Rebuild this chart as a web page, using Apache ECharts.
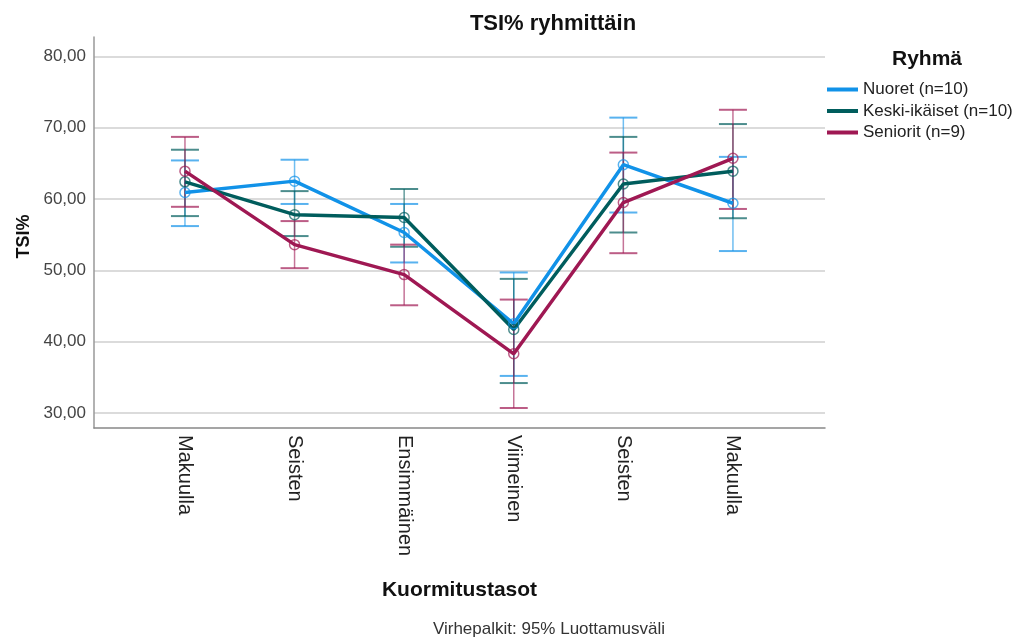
<!DOCTYPE html>
<html>
<head>
<meta charset="utf-8">
<script src="https://cdn.jsdelivr.net/npm/echarts@6/dist/echarts.min.js"></script>
<style>html,body{margin:0;padding:0;background:#fff}#c{width:1016px;height:639px}</style>
</head>
<body>
<div id="c"></div>
<script>
var categories = ['Makuulla', 'Seisten', 'Ensimmäinen', 'Viimeinen', 'Seisten', 'Makuulla'];
var yTicks = [30, 40, 50, 60, 70, 80];
var groupNames = ['Nuoret (n=10)', 'Keski-ikäiset (n=10)', 'Seniorit (n=9)'];
var nuoretMean = [60.9, 62.5, 55.3, 42.5, 64.8, 59.4];
var nuoretLow  = [56.2, 59.3, 51.1, 35.2, 58.1, 52.7];
var nuoretHigh = [65.4, 65.5, 59.3, 49.7, 71.4, 65.9];
var keskiMean = [62.4, 57.8, 57.4, 41.7, 62.1, 63.9];
var keskiLow  = [57.6, 54.8, 53.3, 34.2, 55.3, 57.3];
var keskiHigh = [66.9, 61.1, 61.4, 48.8, 68.7, 70.5];
var senioritMean = [63.9, 53.6, 49.4, 38.3, 59.5, 65.7];
var senioritLow  = [58.9, 50.3, 45.1, 30.7, 52.4, 58.6];
var senioritHigh = [68.7, 56.9, 53.6, 45.9, 66.5, 72.5];

var colors = ['#1192e8', '#005d5d', '#9f1853'];
var means = [nuoretMean, keskiMean, senioritMean];
var lows = [nuoretLow, keskiLow, senioritLow];
var highs = [nuoretHigh, keskiHigh, senioritHigh];

var chart = echarts.init(document.getElementById('c'), null, {renderer: 'canvas'});
var FONT = '"Liberation Sans", Arial, sans-serif';

var series = [];
groupNames.forEach(function (name, g) {
  series.push({
    type: 'custom',
    name: name,
    silent: true,
    z: 3,
    itemStyle: {color: colors[g]},
    data: categories.map(function (c, i) { return [i, lows[g][i], highs[g][i]]; }),
    encode: {x: 0, y: [1, 2]},
    renderItem: function (params, api) {
      var x = api.value(0);
      var lo = api.coord([x, api.value(1)]);
      var hi = api.coord([x, api.value(2)]);
      var hw = 14;
      var st = {stroke: colors[g], lineWidth: 1.5, opacity: 0.6};
      var cap = {stroke: colors[g], lineWidth: 2, opacity: 0.7};
      return {
        type: 'group',
        children: [
          {type: 'line', shape: {x1: lo[0], y1: lo[1], x2: hi[0], y2: hi[1]}, style: st},
          {type: 'line', shape: {x1: lo[0] - hw, y1: lo[1], x2: lo[0] + hw, y2: lo[1]}, style: cap},
          {type: 'line', shape: {x1: hi[0] - hw, y1: hi[1], x2: hi[0] + hw, y2: hi[1]}, style: cap}
        ]
      };
    }
  });
  series.push({
    type: 'line',
    name: name,
    z: 5,
    data: categories.map(function (c, i) { return [i, means[g][i]]; }),
    lineStyle: {color: colors[g], width: 3.5},
    itemStyle: {color: 'rgba(255,255,255,0)', borderColor: colors[g], borderWidth: 1.5, opacity: 0.7},
    symbol: 'circle',
    symbolSize: 10,
    showSymbol: true
  });
});

chart.setOption({
  animation: false,
  color: colors,
  textStyle: {fontFamily: FONT},
  title: [
    {text: 'TSI% ryhmittäin', left: 548, top: 8, textAlign: 'center',
     textStyle: {fontFamily: FONT, fontSize: 22, fontWeight: 'bold', color: '#111'}},
    {text: 'Ryhmä', left: 922, top: 44, textAlign: 'center',
     textStyle: {fontFamily: FONT, fontSize: 21, fontWeight: 'bold', color: '#111'}},
    {text: 'Virhepalkit: 95% Luottamusväli', left: 544, top: 616, textAlign: 'center',
     textStyle: {fontFamily: FONT, fontSize: 17, fontWeight: 'normal', color: '#333'}}
  ],
  legend: {
    orient: 'vertical',
    left: 822,
    top: 81,
    padding: [0, 5, 0, 5],
    itemWidth: 31,
    itemHeight: 4,
    itemGap: 4.5,
    icon: 'rect',
    data: groupNames.map(function (n, g) { return {name: n, itemStyle: {color: colors[g], opacity: 1, borderWidth: 0}}; }),
    textStyle: {fontFamily: FONT, fontSize: 17, color: '#222', lineHeight: 17}
  },
  grid: {left: 94, right: 191, top: 37, bottom: 211, containLabel: false},
  xAxis: {
    type: 'value',
    min: -0.83,
    max: 5.84,
    name: 'Kuormitustasot',
    nameLocation: 'middle',
    nameGap: 152,
    nameTextStyle: {fontFamily: FONT, fontSize: 21, fontWeight: 'bold', color: '#111'},
    axisLine: {show: true, onZero: false, lineStyle: {color: '#888', width: 1.5}},
    axisTick: {show: false, customValues: [0, 1, 2, 3, 4, 5]},
    splitLine: {show: false},
    axisLabel: {
      customValues: [0, 1, 2, 3, 4, 5],
      rotate: -90,
      margin: 7,
      fontFamily: FONT,
      fontSize: 20,
      color: '#222',
      formatter: function (v) { return categories[Math.round(v)]; }
    }
  },
  yAxis: {
    type: 'value',
    min: 27.9,
    max: 82.7,
    name: 'TSI%',
    nameLocation: 'middle',
    nameGap: 60,
    nameRotate: 90,
    nameTextStyle: {fontFamily: FONT, fontSize: 18, fontWeight: 'bold', color: '#111', padding: [0, 8, 0, 0]},
    axisLine: {show: true, onZero: false, lineStyle: {color: '#999', width: 1.5}},
    axisTick: {show: false, customValues: yTicks},
    splitLine: {show: true, lineStyle: {color: '#cfcfcf', width: 1.5}},
    axisLabel: {
      customValues: yTicks,
      margin: 8,
      fontFamily: FONT,
      fontSize: 17,
      color: '#444',
      formatter: function (v) { return v.toFixed(2).replace('.', ','); }
    }
  },
  series: series
});
</script>
</body>
</html>
